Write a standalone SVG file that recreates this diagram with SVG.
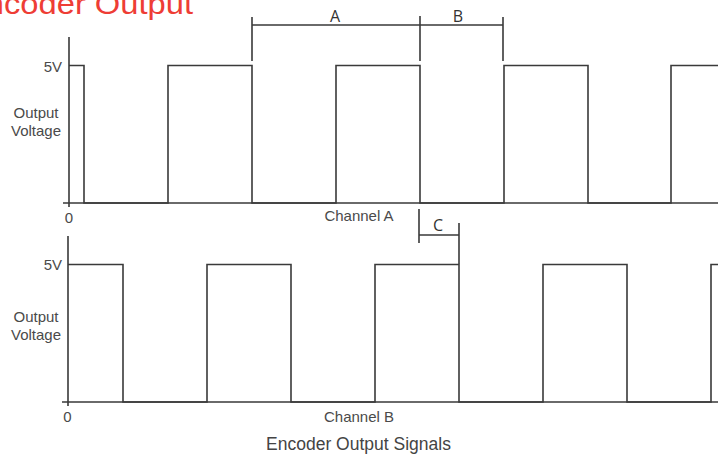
<svg xmlns="http://www.w3.org/2000/svg" width="718" height="454" viewBox="0 0 718 454">
<style>
.w{fill:none;stroke:#3a3a3a;stroke-width:1.6}
.t{font-family:"Liberation Sans",Arial,sans-serif;fill:#4a4a4a;font-size:15px}
.l{font-family:"Open Sans","Noto Sans",sans-serif;fill:#333;font-size:16px;text-anchor:middle}
</style>
<rect width="718" height="454" fill="#fff"/>
<text x="-36" y="14" textLength="229" lengthAdjust="spacingAndGlyphs" font-family="Liberation Sans, Arial, sans-serif" font-size="30" fill="#ee3d35">Encoder Output</text>
<g id="channelA">
<path class="w" d="M69,37 V207 M63,203 H718"/>
<path class="w" d="M69,65.5 H84 V203 H168 V65.5 H252 V203 H336 V65.5 H420 V203 H504 V65.5 H588 V203 H671 V65.5 H718"/>
<text class="t" x="62" y="72" text-anchor="end">5V</text>
<text class="t" x="36" y="118" text-anchor="middle">Output</text>
<text class="t" x="36" y="136" text-anchor="middle">Voltage</text>
<text class="t" x="69" y="223" text-anchor="middle">0</text>
<text class="t" x="359" y="221" text-anchor="middle">Channel A</text>
</g>
<g id="channelB">
<path class="w" d="M68,236 V406 M62,402 H718"/>
<path class="w" d="M68,264.5 H123 V402 H207 V264.5 H291 V402 H375 V264.5 H459 V402 H543 V264.5 H627 V402 H711 V264.5 H718"/>
<text class="t" x="62" y="270" text-anchor="end">5V</text>
<text class="t" x="36" y="322" text-anchor="middle">Output</text>
<text class="t" x="36" y="340" text-anchor="middle">Voltage</text>
<text class="t" x="67.5" y="422" text-anchor="middle">0</text>
<text class="t" x="359" y="422" text-anchor="middle">Channel B</text>
</g>
<g id="brackets">
<path class="w" d="M252,17 V61 M252,25 H503 M420,16 V61 M503,17 V61"/>
<text class="l" x="335" y="22">A</text>
<text class="l" x="458" y="22">B</text>
<path class="w" d="M419,209 V243 M419,235 H459 M459,223 V264"/>
<text class="l" x="438" y="231">C</text>
</g>
<text x="358.5" y="450" text-anchor="middle" font-family="Liberation Sans, Arial, sans-serif" font-size="17.5" fill="#444">Encoder Output Signals</text>
</svg>
